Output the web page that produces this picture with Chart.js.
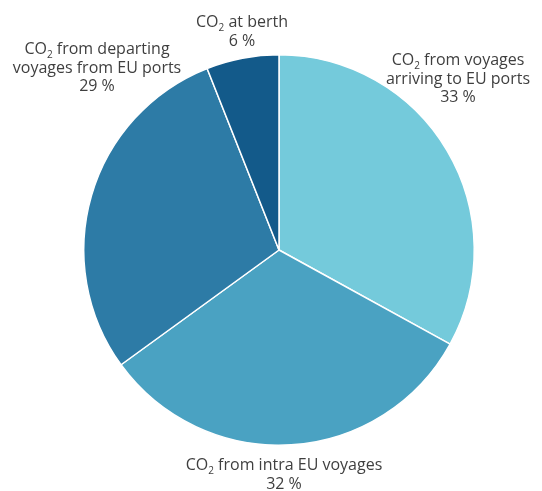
<!DOCTYPE html>
<html>
<head>
<meta charset="utf-8">
<script src="https://cdn.jsdelivr.net/npm/chart.js@4.4.0/dist/chart.umd.min.js"></script>
<style>
  html, body { margin: 0; padding: 0; background: #fff; }
  #wrap { width: 542px; height: 491px; position: relative; }
</style>
</head>
<body>
<div id="wrap"><canvas id="pieChart"></canvas></div>
<script>
// CO2 emissions split (shares in %)
const categories = [
    'from voyages arriving to EU ports',
    'from intra EU voyages',
    'from departing voyages from EU ports',
    'at berth'
];
const shares = [33, 32, 29, 6];
const sliceColors = ['#74cadb', '#4aa2c2', '#2d7ba6', '#135a8a'];

// label text lines (first line starts with CO2), placed relative to pie centre
const labelLines = [
    ['from voyages', 'arriving to EU ports', '33 %'],
    ['from intra EU voyages', '32 %'],
    ['from departing', 'voyages from EU ports', '29 %'],
    ['at berth', '6 %']
];
const labelAnchors = [
    { dx: 179, dy: -185 },
    { dx: 5, dy: 220 },
    { dx: -182, dy: -196 },
    { dx: -37, dy: -223 }
];

const FONT = '"Open Sans", sans-serif';
const LINE_H = 18.5;

function drawCO2Line(ctx, text, cx, y) {
    const big = '16px ' + FONT;
    const small = '10px ' + FONT;
    ctx.font = big;
    const wCO = ctx.measureText('CO').width;
    const wRest = ctx.measureText(' ' + text).width;
    ctx.font = small;
    const w2 = ctx.measureText('2').width;
    const total = wCO + w2 + wRest;
    let x = cx - total / 2;
    ctx.textAlign = 'left';
    ctx.font = big;
    ctx.fillText('CO', x, y);
    x += wCO;
    ctx.font = small;
    ctx.fillText('2', x, y + 4);
    x += w2;
    ctx.font = big;
    ctx.fillText(' ' + text, x, y);
}

const labelPlugin = {
    id: 'sliceLabels',
    afterDraw(chart) {
        const ctx = chart.ctx;
        const arc = chart.getDatasetMeta(0).data[0];
        const cx = arc.x, cy = arc.y;
        ctx.save();
        ctx.fillStyle = '#3f3f3f';
        ctx.textBaseline = 'alphabetic';
        labelLines.forEach((lines, i) => {
            const ax = cx + labelAnchors[i].dx;
            let y = cy + labelAnchors[i].dy;
            lines.forEach((line, j) => {
                if (j === 0) {
                    drawCO2Line(ctx, line, ax, y);
                } else {
                    ctx.font = '16px ' + FONT;
                    ctx.textAlign = 'center';
                    ctx.fillText(line, ax, y);
                }
                y += LINE_H;
            });
        });
        ctx.restore();
    }
};

new Chart(document.getElementById('pieChart').getContext('2d'), {
    type: 'pie',
    data: {
        labels: categories,
        datasets: [{
            data: shares,
            backgroundColor: sliceColors,
            borderColor: '#ffffff',
            borderWidth: 1.5,
            hoverOffset: 0
        }]
    },
    options: {
        responsive: true,
        maintainAspectRatio: false,
        animation: false,
        devicePixelRatio: 1,
        layout: {
            padding: { left: 83, right: 67, top: 54, bottom: 45 }
        },
        plugins: {
            legend: { display: false },
            tooltip: { enabled: false }
        }
    },
    plugins: [labelPlugin]
});
</script>
</body>
</html>
